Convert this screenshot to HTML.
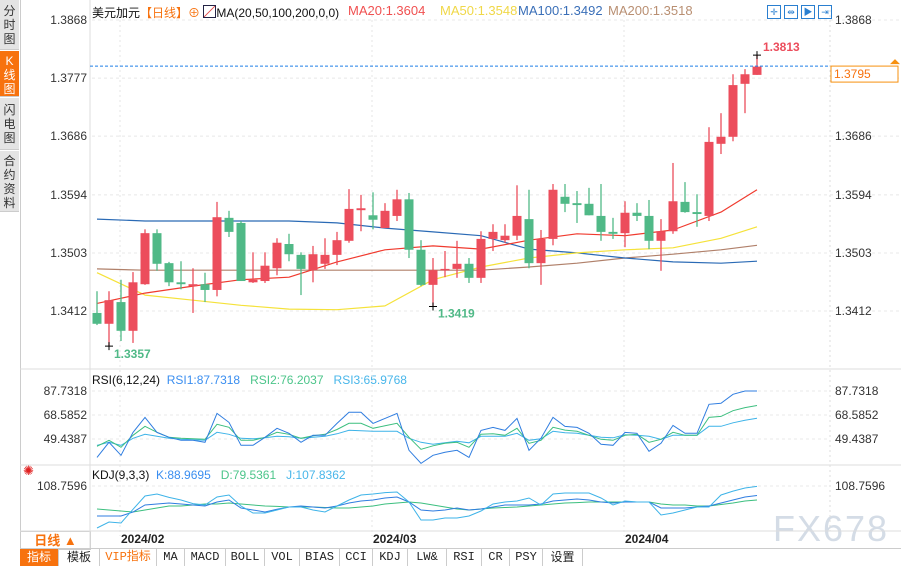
<!DOCTYPE html>
<html><head><meta charset="utf-8">
<style>
body{margin:0;width:901px;height:566px;overflow:hidden;background:#fff;font-family:"Liberation Sans","Noto Sans CJK SC",sans-serif;position:relative}
.abs{position:absolute}
.tab{position:absolute;left:0;width:19px;background:#e4e4e4;color:#333;font-size:12px;line-height:14px;text-align:center;border-bottom:1px solid #ccc}
.tb{position:absolute;top:549px;height:17px;font-family:"Liberation Mono","Noto Sans CJK SC",monospace;font-size:12px;line-height:17px;text-align:center;border-right:1px solid #ccc;color:#222}
.lg{position:absolute;font-size:12px;white-space:nowrap}
</style></head><body>
<div class="abs" style="left:0;top:0;width:20px;height:566px;border-right:1px solid #ccc"></div>
<div class="tab" style="top:0;height:50px;padding-top:4px;box-sizing:border-box">分<br>时<br>图</div>
<div class="tab" style="top:51px;height:46px;background:#f7720e;color:#fff;padding-top:3px;box-sizing:border-box">K<br>线<br>图</div>
<div class="tab" style="top:98px;height:52px;padding-top:5px;box-sizing:border-box">闪<br>电<br>图</div>
<div class="tab" style="top:151px;height:61px;padding-top:3px;box-sizing:border-box">合<br>约<br>资<br>料</div>

<div class="lg" style="left:92px;top:4px">
<span style="color:#111">美元加元</span><span style="color:#f7720e">【日线】</span><span style="color:#f7720e">⊕</span>
<span style="display:inline-block;width:11px;height:11px;border:1px solid #224;vertical-align:-1px;background:linear-gradient(135deg,#fff 45%,#d33 50%,#fff 55%)"></span><span style="color:#111">MA(20,50,100,200,0,0)</span></div>
<div class="lg" style="left:348px;top:3px;font-size:13px;color:#f05050">MA20:1.3604</div>
<div class="lg" style="left:440px;top:3px;font-size:13px;color:#f0d848">MA50:1.3548</div>
<div class="lg" style="left:518px;top:3px;font-size:13px;color:#3a6fb8">MA100:1.3492</div>
<div class="lg" style="left:608px;top:3px;font-size:13px;color:#b98f72">MA200:1.3518</div>
<div class="abs" style="left:767px;top:2px">
<span style="display:inline-block;width:12px;height:12px;border:1px solid #2a7fd0;margin-right:3px;color:#2a7fd0;font-size:9px;line-height:12px;text-align:center">✛</span><span style="display:inline-block;width:12px;height:12px;border:1px solid #2a7fd0;margin-right:3px;color:#2a7fd0;font-size:9px;line-height:12px;text-align:center">⇹</span><span style="display:inline-block;width:12px;height:12px;border:1px solid #2a7fd0;margin-right:3px;color:#2a7fd0;font-size:9px;line-height:12px;text-align:center">▶</span><span style="display:inline-block;width:12px;height:12px;border:1px solid #2a7fd0;color:#2a7fd0;font-size:9px;line-height:12px;text-align:center">⇥</span>
</div>

<div class="lg" style="left:92px;top:373px"><span style="color:#111">RSI(6,12,24)</span>&nbsp; <span style="color:#3a8ef0">RSI1:87.7318</span>&nbsp;&nbsp; <span style="color:#4cc58a">RSI2:76.2037</span>&nbsp;&nbsp; <span style="color:#48b6ea">RSI3:65.9768</span></div>
<div class="lg" style="left:92px;top:468px"><span style="color:#111">KDJ(9,3,3)</span>&nbsp; <span style="color:#3a8ef0">K:88.9695</span>&nbsp;&nbsp; <span style="color:#4cc58a">D:79.5361</span>&nbsp;&nbsp; <span style="color:#48b6ea">J:107.8362</span></div>
<div class="abs" style="left:23px;top:463px;color:#e02020;font-size:13px">✺</div>

<div class="abs" style="left:20px;top:531px;width:69px;height:17px;border:1px solid #ccc;color:#f7720e;font-size:13px;font-weight:bold;line-height:17px;text-align:center">日线 ▲</div>

<div class="tb" style="left:20px;width:38px;background:#f7720e;color:#fff;font-family:'Liberation Sans','Noto Sans CJK SC',sans-serif">指标</div>
<div class="tb" style="left:59px;width:40px;font-family:'Liberation Sans','Noto Sans CJK SC',sans-serif">模板</div>
<div class="tb" style="left:100px;width:56px;color:#f7720e">VIP指标</div>
<div class="tb" style="left:157px;width:27px">MA</div>
<div class="tb" style="left:185px;width:40px">MACD</div>
<div class="tb" style="left:226px;width:38px">BOLL</div>
<div class="tb" style="left:265px;width:34px">VOL</div>
<div class="tb" style="left:300px;width:39px">BIAS</div>
<div class="tb" style="left:340px;width:32px">CCI</div>
<div class="tb" style="left:373px;width:34px">KDJ</div>
<div class="tb" style="left:408px;width:38px">LW&amp;</div>
<div class="tb" style="left:447px;width:34px">RSI</div>
<div class="tb" style="left:482px;width:27px">CR</div>
<div class="tb" style="left:510px;width:32px">PSY</div>
<div class="tb" style="left:543px;width:39px;font-family:'Liberation Sans','Noto Sans CJK SC',sans-serif">设置</div>
<div class="abs" style="left:20px;top:548px;width:881px;height:1px;background:#ccc"></div>

<div class="abs" style="left:773px;top:508px;font-size:36px;color:#d4dce6;letter-spacing:2px;font-family:'Liberation Sans',sans-serif">FX678</div>

<svg id="chart" class="abs" style="left:0;top:0" width="901" height="566"></svg>

<script>
// ---- data ----
const opens  = [1.3409,1.3392,1.3426,1.3381,1.3454,1.3534,1.3487,1.3457,1.3451,1.3454,1.3445,1.3558,1.3550,1.3457,1.3459,1.3479,1.3517,1.3500,1.3476,1.3486,1.3500,1.3522,1.3570,1.3562,1.3542,1.3561,1.3587,1.3508,1.3453,1.3476,1.3478,1.3486,1.3464,1.3525,1.3523,1.3530,1.3556,1.3487,1.3525,1.3591,1.3581,1.3580,1.3561,1.3536,1.3534,1.3566,1.3561,1.3522,1.3537,1.3583,1.3567,1.3561,1.3674,1.3685,1.3768,1.3782];
const highs  = [1.3443,1.3443,1.3461,1.3473,1.3540,1.3540,1.3489,1.3490,1.3479,1.3472,1.3583,1.3569,1.3553,1.3504,1.3504,1.3526,1.3533,1.3504,1.3514,1.3526,1.3536,1.3603,1.3594,1.3598,1.3581,1.3602,1.3597,1.3523,1.3495,1.3506,1.3522,1.3495,1.3537,1.3548,1.3548,1.3609,1.3602,1.3539,1.3611,1.3611,1.3600,1.3605,1.3611,1.3558,1.3584,1.3581,1.3586,1.3556,1.3644,1.3614,1.3595,1.3700,1.3722,1.3783,1.3791,1.3813];
const lows   = [1.3390,1.3357,1.3365,1.3362,1.3453,1.3475,1.3451,1.3446,1.3409,1.3426,1.3435,1.3528,1.3459,1.3456,1.3456,1.3468,1.3490,1.3437,1.3457,1.3478,1.3484,1.3519,1.3537,1.3540,1.3542,1.3553,1.3495,1.3451,1.3419,1.3465,1.3464,1.3456,1.3456,1.3506,1.3519,1.3523,1.3479,1.3453,1.3515,1.3567,1.3550,1.3562,1.3522,1.3525,1.3512,1.3553,1.3509,1.3475,1.3533,1.3566,1.3544,1.3553,1.3658,1.3678,1.3722,1.3782];
const closes = [1.3392,1.3429,1.3381,1.3457,1.3534,1.3486,1.3457,1.3454,1.3454,1.3445,1.3559,1.3536,1.3459,1.3461,1.3483,1.3519,1.3501,1.3478,1.3501,1.3500,1.3523,1.3572,1.3573,1.3555,1.3569,1.3587,1.3508,1.3453,1.3476,1.3478,1.3486,1.3464,1.3525,1.3536,1.3530,1.3561,1.3487,1.3525,1.3602,1.3580,1.3578,1.3562,1.3536,1.3533,1.3566,1.3561,1.3522,1.3537,1.3584,1.3567,1.3564,1.3677,1.3685,1.3766,1.3783,1.3795];
const maIdx  = [0,4,8,12,16,20,24,28,32,36,40,44,48,52,55];
const ma20   = [1.3424,1.3440,1.3451,1.3461,1.3465,1.3489,1.3508,1.3514,1.3509,1.3523,1.3533,1.3530,1.3539,1.3567,1.3602];
const ma50   = [1.3472,1.3437,1.3429,1.3421,1.3415,1.3414,1.3420,1.3461,1.3481,1.3495,1.3503,1.3508,1.3511,1.3526,1.3544];
const ma100  = [1.3556,1.3553,1.3553,1.3553,1.3553,1.3550,1.3542,1.3536,1.3530,1.3509,1.3503,1.3495,1.3489,1.3487,1.3490];
const ma200  = [1.3478,1.3476,1.3476,1.3476,1.3476,1.3476,1.3476,1.3476,1.3476,1.3481,1.3487,1.3495,1.3501,1.3508,1.3515];
const priceTicks = ["1.3868","1.3777","1.3686","1.3594","1.3503","1.3412"];
const rsi1 = [34.8,46.8,36.4,54.7,66.7,54.7,50.8,48.4,48.4,46.8,69.9,62.7,44.4,44.4,50.8,58,54,46.8,52.4,52.4,61.9,70.7,70.7,61.9,65.9,69.9,40.4,30,36.4,38.8,40.4,34.8,56.3,58.7,56.3,65.9,40.4,50.1,66.7,59.5,58.7,54,45.2,44.4,54.7,54,39.6,46,60.3,54,54,77.1,77.9,85.1,87.7,87.73];
const rsi2 = [43.6,48.4,42.8,52.4,59.6,54.8,50.8,50,49.6,49.2,61.2,58.8,48.4,48.4,50.8,54.8,53.2,50,52,53.2,57,62,62,58,60,62,50.8,41.2,44,46,46.8,42.8,53.2,53.6,52.4,58,46,48.4,58.8,56.5,55.6,52.4,49.2,48.4,52.4,53.2,46.8,49.2,54.8,52.4,52.4,66.7,67.5,72,74.5,76.2];
const rsi3 = [44.4,46.8,44.4,50,53.2,51.6,50,49.2,48.8,48.4,54.8,53.2,50,49.6,50.4,51.6,51.2,50,50.8,51.6,53.6,56.4,56,55.6,55.6,55.6,50,46.8,45.2,46.4,47.6,46.4,51.6,51.6,51.6,54,48.4,49.6,55.6,54.4,54,52.4,50.8,50.4,52.8,52.4,51.6,49.2,52.4,52.4,52.4,59.6,59.6,62.4,64.4,66];
const rsiTicks = ["87.7318","68.5852","49.4387"];
const kK = [46,46,46,54.4,69,71,73.2,71,69,66.9,75.3,79.5,62.7,58.6,54.4,60,64.8,66.9,64.8,62.7,66.9,73.2,77.4,79.5,83.7,85.7,75.3,58.6,56.5,58.6,62.7,58.6,60.6,64.8,69,69,69,71.1,77.4,79.5,81.6,79.5,75.3,73.2,75.3,75.3,75.3,62.7,62.7,62.7,64.8,66.9,73.2,79.5,85.7,88.97];
const kD = [60.6,58.6,56.5,54.4,58.6,62.7,66.9,66.9,69,71.1,71.1,73.2,71.1,69,67,66,64.8,64.8,64.8,63.7,62.7,62.7,64.8,66.9,71.1,73.2,75.3,73.2,69,64.8,60.6,58.6,60.6,62.7,63.7,64.8,66.9,69,71.1,73.2,74,75.3,75.3,75.3,75.3,75.3,75.3,71.1,69,69,67,66.9,70,73.2,77.4,79.54];
const kJ = [20.9,33.4,31.4,60,87.8,92,85,79.5,72,69,85.7,89.9,66.9,52.3,52.3,58.6,64.8,64.8,58.6,54.4,66.9,79.5,89.9,92,95,96.2,75.3,37.6,37.6,41.8,41.8,46,56.5,71,75.3,77.4,83.7,69,92,94.1,94.1,94.1,83.7,69,77.4,75.3,75.3,48.1,52.3,58.6,64.8,64.8,89.9,98,104.6,107.84];
const kdjTicks = ["108.7596"];
const dateLabels = ["2024/02","2024/03","2024/04"];
const dateIdx = [2,23,44];

// ---- axes ----
const X = i => 97 + 12*i;
const Y = p => 20 + (1.3868 - p)*6382;
const YR = v => 391 + (87.7318 - v)*1.2535;
const YK = v => 486 + (108.7596 - v)*0.478;
const svg = document.getElementById('chart');
const NS='http://www.w3.org/2000/svg';
function mk(tag, attrs){const e=document.createElementNS(NS,tag);for(const k in attrs)e.setAttribute(k,attrs[k]);svg.appendChild(e);return e;}

let e;
e=mk('line',{x1:90,y1:0,x2:90,y2:548,stroke:'#ddd'});


e=mk('line',{x1:830,y1:10,x2:830,y2:531,stroke:'#ddd','stroke-dasharray':'2,3'});


[369,465,531].forEach(yy=>{
  e=mk('line',{x1:20,y1:yy,x2:901,y2:yy,stroke:'#ddd'});
  
  
});
dateIdx.forEach((di,k)=>{
  e=mk('line',{x1:X(di)-1,y1:10,x2:X(di)-1,y2:536,stroke:'#e4e4e4','stroke-dasharray':'2,3'});
  
  
  e=mk('text',{x:X(di),y:543,'font-size':12,'font-weight':'bold',fill:'#222','font-family':'Liberation Sans'});
  e.textContent=dateLabels[k];
  
  
});
priceTicks.forEach(t=>{
  const yy=Y(parseFloat(t));
  e=mk('line',{x1:92,y1:yy,x2:900,y2:yy,stroke:'#e8e8e8','stroke-dasharray':'3,3'});
  
  
  e=mk('text',{x:87,y:yy+4,'font-size':12,fill:'#333','text-anchor':'end','font-family':'Liberation Sans'});
  e.textContent=t;
  
  
  e=mk('text',{x:835,y:yy+4,'font-size':12,fill:'#333','font-family':'Liberation Sans'});
  e.textContent=t;
  
  
});
rsiTicks.forEach(t=>{
  const yy=YR(parseFloat(t));
  e=mk('line',{x1:92,y1:yy,x2:830,y2:yy,stroke:'#e8e8e8','stroke-dasharray':'3,3'});
  
  
  e=mk('text',{x:87,y:yy+4,'font-size':12,fill:'#333','text-anchor':'end','font-family':'Liberation Sans'});
  e.textContent=t;
  
  
  e=mk('text',{x:835,y:yy+4,'font-size':12,fill:'#333','font-family':'Liberation Sans'});
  e.textContent=t;
  
  
});
kdjTicks.forEach(t=>{
  const yy=YK(parseFloat(t));
  e=mk('line',{x1:92,y1:yy,x2:830,y2:yy,stroke:'#e8e8e8','stroke-dasharray':'3,3'});
  
  
  e=mk('text',{x:87,y:yy+4,'font-size':12,fill:'#333','text-anchor':'end','font-family':'Liberation Sans'});
  e.textContent=t;
  
  
  e=mk('text',{x:835,y:yy+4,'font-size':12,fill:'#333','font-family':'Liberation Sans'});
  e.textContent=t;
  
  
});

function maLine(arr,color,name){
  const pts=arr.map((v,k)=>X(maIdx[k])+','+Y(v).toFixed(1)).join(' ');
  const el=mk('polyline',{points:pts,fill:'none',stroke:color,'stroke-width':1.2,'stroke-linejoin':'round'});
  
  
}
maLine(ma200,'#b0806a','ma200-line');
maLine(ma100,'#2a6ab5','ma100-line');
maLine(ma50,'#f5e23a','ma50-line');
maLine(ma20,'#f03a2e','ma20-line');

closes.forEach((c,i)=>{
  const o=opens[i], up=c>=o, col=up?'#ec4d5c':'#50b987';
  const x=X(i);
  const w=mk('line',{x1:x,y1:Y(highs[i]),x2:x,y2:Y(lows[i]),stroke:col,'stroke-width':1.3});
  
  
  const top=Y(Math.max(o,c)), h=Math.max(1.5,Math.abs(Y(o)-Y(c)));
  const b=mk('rect',{x:x-4.5,y:top,width:9,height:h,fill:col});
  
  
});

const lastY=Y(closes[closes.length-1])-0.5;
e=mk('line',{x1:90,y1:lastY,x2:830,y2:lastY,stroke:'#1f7fe8','stroke-dasharray':'3,2'});


e=mk('rect',{x:831,y:lastY,width:67,height:16,fill:'#fff',stroke:'#f7900e'});


e=mk('text',{x:834,y:lastY+12,'font-size':12,fill:'#f7720e','font-family':'Liberation Sans'});
e.textContent=closes[closes.length-1].toFixed(4);


e=mk('path',{d:`M890 ${lastY-2} L895 ${lastY-7} L900 ${lastY-2} Z`,fill:'#f7900e'});



const hiI=highs.indexOf(Math.max(...highs)), loI=lows.indexOf(Math.min(...lows));
function mark(i,p,label,color,dx,dy,name){
  const x=X(i),y=Y(p);
  let m=mk('path',{d:`M${x-4} ${y} H${x+4} M${x} ${y-4} V${y+4}`,stroke:'#000','stroke-width':1});
  
  
  m=mk('text',{x:x+dx,y:y+dy,'font-size':12,'font-weight':'bold',fill:color,'font-family':'Liberation Sans'});
  m.textContent=label;
  
  
}
mark(hiI,highs[hiI],highs[hiI].toFixed(4),'#ec4d5c',6,-4,'high');
mark(loI,lows[loI],lows[loI].toFixed(4),'#50b987',5,12,'low');
mark(28,lows[28],lows[28].toFixed(4),'#50b987',5,11,'local-low');

function ind(arr,fy,color,name){
  const pts=arr.map((v,i)=>X(i)+','+fy(v).toFixed(1)).join(' ');
  const el=mk('polyline',{points:pts,fill:'none',stroke:color,'stroke-width':1});
  
  
}
ind(rsi3,YR,'#3db3e8','rsi3-line');
ind(rsi2,YR,'#3cbf7f','rsi2-line');
ind(rsi1,YR,'#2f7de0','rsi1-line');
ind(kD,YK,'#3cbf7f','kdj-d-line');
ind(kK,YK,'#2f7de0','kdj-k-line');
ind(kJ,YK,'#3db3e8','kdj-j-line');
</script>
</body></html>
